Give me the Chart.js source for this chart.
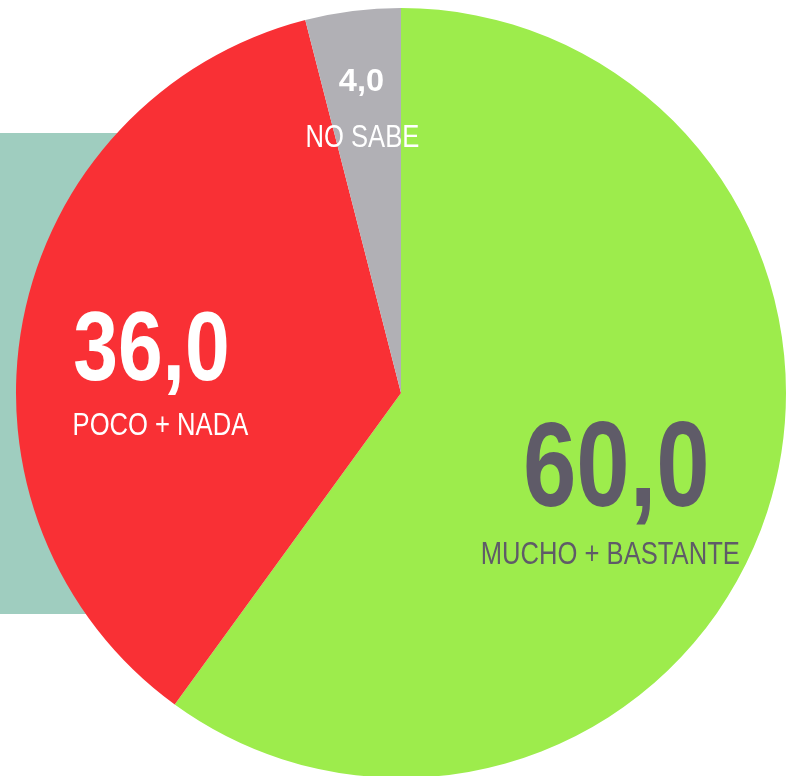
<!DOCTYPE html>
<html>
<head>
<meta charset="utf-8">
<script src="https://cdn.jsdelivr.net/npm/chart.js@4"></script>
<style>
  html, body { margin: 0; padding: 0; background: #fff; overflow: hidden; }
  #wrap { position: relative; width: 795px; height: 776px; overflow: hidden; }
  #band { position: absolute; left: 0; top: 133px; width: 200px; height: 481px; background: #9fcdbf; }
  #pie { position: absolute; left: 0; top: 0; }
</style>
</head>
<body>
<div id="wrap">
  <div id="band"></div>
  <canvas id="pie" width="795" height="800"></canvas>
</div>
<script>
// Data...
const categories = ['MUCHO + BASTANTE', 'POCO + NADA', 'NO SABE'];
const values = [60.0, 36.0, 4.0];
const colors = ['#9dec4c', '#f93035', '#b1b0b5'];

// Label styling per slice...
const textColors = ['#5f5b68', '#ffffff', '#ffffff'];
const numberSizes = [120, 98, 31];
const numberStretch = [0.8, 0.82, 1.05];
const labelRadius = [0.588, 0.66, 0.82];
const labelDrop = [101, 90, 67];
const labelShift = [-6, 9, 1];

const FONT = '"Liberation Sans", Arial, sans-serif';
const CONDENSE = 0.8;

function drawStretched(ctx, text, x, y, sx) {
  ctx.save();
  ctx.translate(x, y);
  ctx.scale(sx, 1);
  ctx.fillText(text, 0, 0);
  ctx.restore();
}

const sliceLabels = {
  id: 'sliceLabels',
  afterDatasetsDraw(chart) {
    const ctx = chart.ctx;
    const arcs = chart.getDatasetMeta(0).data;
    arcs.forEach((arc, i) => {
      const p = arc.getProps(['x', 'y', 'startAngle', 'endAngle', 'outerRadius'], true);
      const mid = (p.startAngle + p.endAngle) / 2;
      const r = p.outerRadius * labelRadius[i];
      const x = p.x + Math.cos(mid) * r;
      const y = p.y + Math.sin(mid) * r;
      ctx.save();
      ctx.fillStyle = textColors[i];
      ctx.textAlign = 'center';
      ctx.textBaseline = 'alphabetic';
      // value, centred on its cap height
      ctx.font = 'bold ' + numberSizes[i] + 'px ' + FONT;
      const txt = values[i].toFixed(1).replace('.', ',');
      drawStretched(ctx, txt, x, y + numberSizes[i] * 0.716 / 2, numberStretch[i]);
      // category name below
      ctx.font = '32px ' + FONT;
      drawStretched(ctx, categories[i], x + labelShift[i], y + labelDrop[i], CONDENSE);
      ctx.restore();
    });
  }
};

document.addEventListener('DOMContentLoaded', function () {
  new Chart(document.querySelector('#pie'), {
    type: 'pie',
    data: {
      labels: categories,
      datasets: [{
        data: values,
        backgroundColor: colors,
        borderWidth: 0
      }]
    },
    options: {
      responsive: false,
      animation: false,
      layout: { padding: { left: 16, right: 9, top: 8, bottom: 22 } },
      plugins: {
        legend: { display: false },
        tooltip: { enabled: false }
      }
    },
    plugins: [sliceLabels]
  });
});
</script>
</body>
</html>
